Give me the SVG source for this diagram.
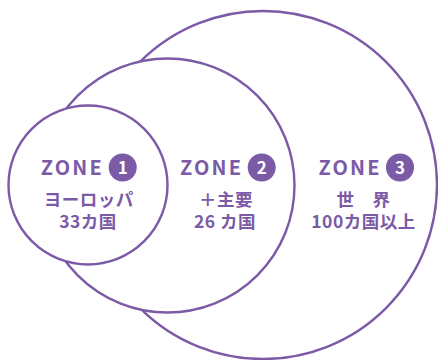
<svg xmlns="http://www.w3.org/2000/svg" width="438" height="360" viewBox="0 0 438 360">
<style>
.ring{fill:#fff;stroke:#7b5aa6;stroke-width:2.4}
.zone{font-family:"Noto Sans CJK JP","Noto Sans",sans-serif;font-weight:700;font-size:20px;fill:#7b5aa6;letter-spacing:2.2px}
.badge{fill:#7b5aa6}
.num{font-family:"Noto Sans CJK JP","Noto Sans",sans-serif;font-weight:700;font-size:17px;fill:#fff;text-anchor:middle}
.jp{font-family:"Noto Sans CJK JP",sans-serif;font-weight:700;font-size:17.5px;fill:#7b5aa6;text-anchor:middle;letter-spacing:0.5px}
</style>
<rect width="438" height="360" fill="#fff"/>
<g id="zone3">
<circle class="ring" cx="263" cy="185" r="174"/>
<text class="zone" x="318.5" y="175">ZONE</text>
<circle class="badge" cx="400" cy="167.5" r="14"/>
<text class="num" x="400" y="173.5">3</text>
<text class="jp" x="363.5" y="205.5">世　界</text>
<text class="jp" x="363.5" y="227.5">100カ国以上</text>
</g>
<g id="zone2">
<circle class="ring" cx="167.5" cy="185.5" r="127"/>
<text class="zone" x="180" y="175">ZONE</text>
<circle class="badge" cx="261.7" cy="167.5" r="14"/>
<text class="num" x="261.7" y="173.5">2</text>
<text class="jp" x="226" y="205.5">＋主要</text>
<text class="jp" x="225" y="227.5">26 カ国</text>
</g>
<g id="zone1">
<circle class="ring" cx="88" cy="185" r="79.5"/>
<text class="zone" x="40.7" y="175">ZONE</text>
<circle class="badge" cx="122.7" cy="167.5" r="14"/>
<text class="num" x="122.7" y="173.5">1</text>
<text class="jp" x="88.7" y="205.5">ヨーロッパ</text>
<text class="jp" x="88" y="227.5">33カ国</text>
</g>
<g id="connectors"/>
</svg>
